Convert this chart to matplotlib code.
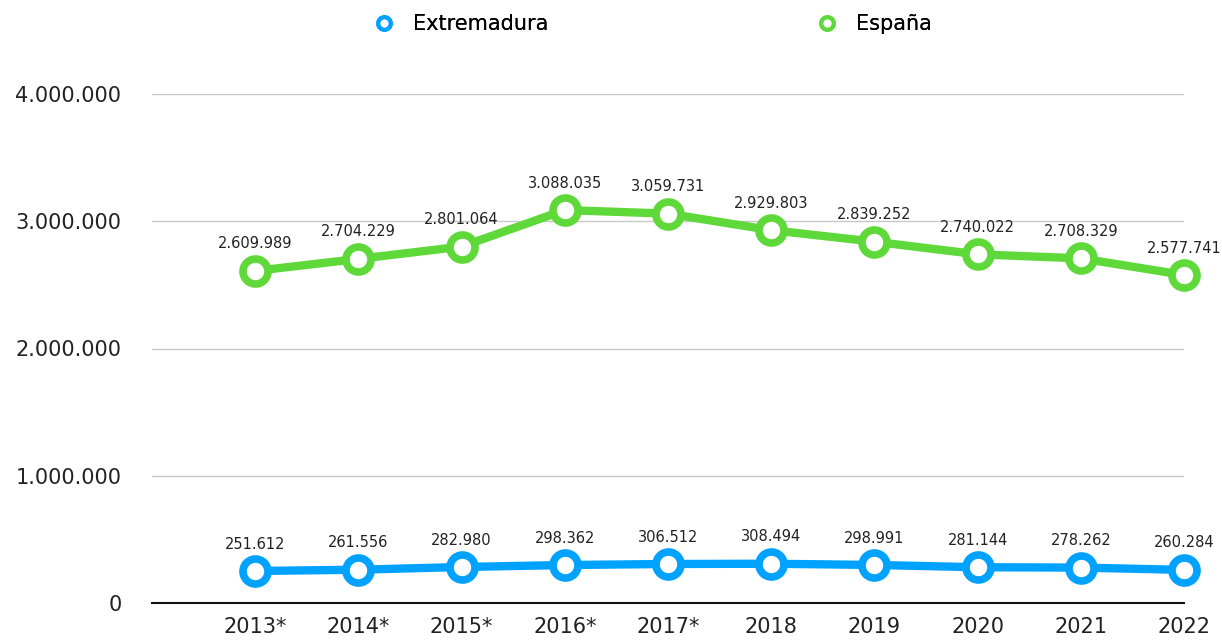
import matplotlib.pyplot as plt
from matplotlib.ticker import FuncFormatter

years = ["2013*", "2014*", "2015*", "2016*", "2017*", "2018", "2019", "2020", "2021", "2022"]
extremadura = [251612, 261556, 282980, 298362, 306512, 308494, 298991, 281144, 278262, 260284]
espana = [2609989, 2704229, 2801064, 3088035, 3059731, 2929803, 2839252, 2740022, 2708329, 2577741]

plt.rcParams['font.family'] = ['DejaVu Sans']


def fmt(v):
    return f"{int(v):,}".replace(",", ".")


fig = plt.figure(figsize=(12.22, 6.41), dpi=100)
ax = fig.add_axes([152 / 1222, 38 / 641, (1184 - 152) / 1222, (603 - 94) / 641])

x = list(range(len(years)))
series = [("Extremadura", extremadura, "#00A2FF"), ("España", espana, "#5FD93A")]
lines = []
for name, vals, col in series:
    ln, = ax.plot(x, vals, color=col, lw=6, marker="o", ms=18, mfc="white", mec=col, mew=5.5,
                  label=name, clip_on=False, zorder=3)
    lines.append(ln)
    for xi, v in zip(x, vals):
        ax.annotate(fmt(v), (xi, v), xytext=(0, 14), textcoords="offset points",
                    ha="center", va="bottom", fontsize=10.5, color="#222222")

ax.set_xlim(-1, 9)
ax.set_ylim(0, 4000000)
ax.set_yticks([0, 1000000, 2000000, 3000000, 4000000])
ax.yaxis.set_major_formatter(FuncFormatter(lambda v, p: fmt(v)))
ax.set_xticks(x)
ax.set_xticklabels(years)
ax.tick_params(axis="y", length=0, pad=22, labelsize=15, labelcolor="#222222")
ax.tick_params(axis="x", length=0, pad=10, labelsize=15, labelcolor="#222222")
ax.grid(axis="y", color="#c8c8c8", lw=1)
ax.set_axisbelow(True)
for s in ["top", "right", "left"]:
    ax.spines[s].set_visible(False)
ax.spines["bottom"].set_color("#111111")
ax.spines["bottom"].set_linewidth(1.5)

# two legend entries placed separately, like the original
for ln, xpx in zip(lines, [371.5, 814.5]):
    leg = fig.legend([ln], [ln.get_label()], loc="center left",
                     bbox_to_anchor=(xpx / 1222, 1 - 24 / 641), frameon=False,
                     fontsize=15, handlelength=1.2, handletextpad=0.8,
                     borderpad=0, borderaxespad=0)
    for h in leg.legend_handles:
        h.set_markersize(9)
        h.set_markeredgewidth(3)
        h.set_linewidth(0)
    fig.add_artist(leg)

fig.savefig("out.png", dpi=100)
